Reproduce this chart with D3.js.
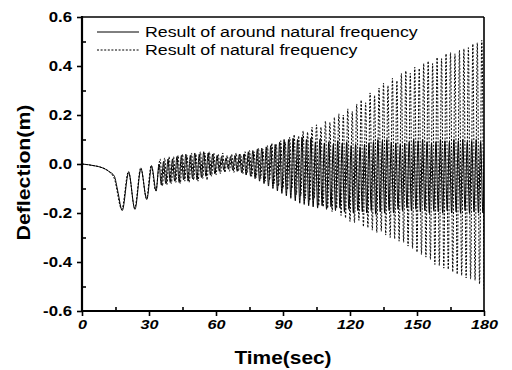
<!DOCTYPE html>
<html>
<head>
<meta charset="utf-8">
<script src="https://cdn.jsdelivr.net/npm/d3@7"></script>
<style>
  html, body { margin: 0; padding: 0; background: #fff; }
  svg { display: block; }
  text { font-family: "Liberation Sans", Arial, sans-serif; fill: #000; }
</style>
</head>
<body>
<svg id="chart" width="512" height="370"></svg>
<script>
// ---- data (turning points of each response) ----
const seriesNames = ["Result of around natural frequency", "Result of natural frequency"];

const timeSolid = [0,3,6,9,12,14.5,16,18,20.9,23.7,26.4,29,31.2,33.2,34.5,
  35.5,36.5,37.5,38.5,39.5,40.5,41.5,42.5,43.5,44.5,45.5,46.5,47.5,48.5,49.5,
  50.5,51.5,52.5,53.5,54.5,55.5,56.5,57.5,58.5,59.5,60.5,61.5,62.5,63.5,64.5,
  65.5,66.5,67.5,68.5,69.5,70.5,71.5,72.5,73.5,74.5,75.5,76.5,77.5,78.5,79.5,
  80.5,81.5,82.5,83.5,84.5,85.5,86.5,87.5,88.5,89.5,90.5,91.5,92.5,93.5,94.5,
  95.5,96.5,97.5,98.5,99.5,100.5,101.5,102.5,103.5,104.5,105.5,106.5,107.5,108.5,109.5,
  110.5,111.5,112.5,113.5,114.5,115.5,116.5,117.5,118.5,119.5,120.5,121.5,122.5,123.5,124.5,
  125.5,126.5,127.5,128.5,129.5,130.5,131.5,132.5,133.5,134.5,135.5,136.5,137.5,138.5,139.5,
  140.5,141.5,142.5,143.5,144.5,145.5,146.5,147.5,148.5,149.5,150.5,151.5,152.5,153.5,154.5,
  155.5,156.5,157.5,158.5,159.5,160.5,161.5,162.5,163.5,164.5,165.5,166.5,167.5,168.5,169.5,
  170.5,171.5,172.5,173.5,174.5,175.5,176.5,177.5,178.5,179.5,180];
const deflSolid = [0,-0.003,-0.008,-0.015,-0.03,-0.05,-0.11,-0.19,-0.035,-0.185,-0.02,-0.145,-0.01,-0.11,0.0,
  -0.085,0.01,-0.08,0.02,-0.075,0.02,-0.07,0.03,-0.075,0.035,-0.065,0.04,-0.07,0.035,-0.06,
  0.045,-0.065,0.04,-0.055,0.05,-0.05,0.045,-0.045,0.04,-0.04,0.035,-0.03,0.03,-0.025,0.025,
  -0.02,0.03,-0.025,0.035,-0.03,0.04,-0.035,0.04,-0.045,0.05,-0.05,0.055,-0.06,0.06,-0.07,
  0.065,-0.08,0.07,-0.09,0.075,-0.1,0.08,-0.11,0.09,-0.12,0.1,-0.13,0.1,-0.14,0.105,
  -0.15,0.1,-0.16,0.11,-0.165,0.1,-0.17,0.105,-0.175,0.09,-0.18,0.1,-0.17,0.085,-0.185,
  0.09,-0.175,0.08,-0.19,0.095,-0.18,0.085,-0.195,0.09,-0.185,0.075,-0.2,0.08,-0.19,0.07,
  -0.195,0.08,-0.2,0.085,-0.19,0.09,-0.205,0.1,-0.195,0.095,-0.2,0.1,-0.19,0.09,-0.2,
  0.085,-0.185,0.08,-0.19,0.085,-0.18,0.09,-0.19,0.1,-0.185,0.095,-0.195,0.1,-0.19,0.09,
  -0.2,0.085,-0.19,0.09,-0.195,0.1,-0.2,0.095,-0.19,0.09,-0.2,0.1,-0.195,0.095,-0.2,
  0.1,-0.19,0.09,-0.2,0.095,-0.195,0.1,-0.2,0.09,-0.2,0.05];

const timeDotted = [0,4,8,12,14.5,17.8,20.8,23.6,26.3,28.9,31,33,
  35,36,37,38,39,40,41,42,43,44,45,46,47,48,49,50,51,52,53,54,55,56,57,58,59,
  60,61,62,63,64,65,66,67,68,69,70,71,72,73,74,75,76,77,78,79,80,81,82,83,84,
  85,86,87,88,89,90,91,92,93,94,95,96,97,98,99,100,101,102,103,104,105,106,107,108,109,
  110,111,112,113,114,115,116,117,118,119,120,121,122,123,124,125,126,127,128,129,130,131,132,133,134,
  135,136,137,138,139,140,141,142,143,144,145,146,147,148,149,150,151,152,153,154,155,156,157,158,159,
  160,161,162,163,164,165,166,167,168,169,170,171,172,173,174,175,176,177,178,179,180];
const deflDotted = [0,-0.005,-0.012,-0.03,-0.06,-0.185,-0.03,-0.18,-0.015,-0.14,-0.005,-0.11,
  0.02,-0.09,0.025,-0.085,0.03,-0.08,0.03,-0.075,0.035,-0.08,0.04,-0.07,0.035,-0.075,0.045,-0.065,0.04,-0.07,0.05,-0.06,0.045,-0.065,0.05,-0.05,0.045,
  -0.045,0.04,-0.04,0.045,-0.035,0.035,-0.03,0.04,-0.035,0.045,-0.03,0.04,-0.04,0.05,-0.035,0.055,-0.05,0.05,-0.055,0.065,-0.06,0.06,-0.07,0.075,-0.065,
  0.085,-0.08,0.08,-0.09,0.095,-0.1,0.09,-0.105,0.11,-0.1,0.12,-0.125,0.115,-0.13,0.135,-0.14,0.13,-0.15,0.15,-0.14,0.16,-0.17,0.15,-0.175,0.175,
  -0.18,0.17,-0.195,0.19,-0.18,0.205,-0.21,0.2,-0.22,0.225,-0.235,0.215,-0.24,0.245,-0.23,0.26,-0.255,0.25,-0.26,0.29,-0.27,0.28,-0.28,0.31,-0.275,
  0.33,-0.29,0.32,-0.3,0.35,-0.305,0.34,-0.315,0.37,-0.32,0.38,-0.335,0.37,-0.345,0.395,-0.36,0.39,-0.37,0.41,-0.38,0.42,-0.39,0.41,-0.41,0.435,
  -0.415,0.43,-0.425,0.45,-0.43,0.455,-0.44,0.45,-0.45,0.465,-0.455,0.47,-0.465,0.475,-0.47,0.49,-0.475,0.495,-0.49,0.505,-0.51];

const xTicks = [0, 30, 60, 90, 120, 150, 180];
const xMinorTicks = [15, 45, 75, 105, 135, 165];
const yTicks = [-0.6, -0.4, -0.2, 0.0, 0.2, 0.4, 0.6];
const yMinorTicks = [-0.5, -0.3, -0.1, 0.1, 0.3, 0.5];

// ---- layout ----
const svg = d3.select("#chart");
const L = 82, R = 484, T = 17, B = 311;
const x = d3.scaleLinear().domain([0, 180]).range([L, R]);
const y = d3.scaleLinear().domain([-0.6, 0.6]).range([B, T]);

const solid = d3.zip(timeSolid, deflSolid);
const dotted = d3.zip(timeDotted, deflDotted);
const line = d3.line().x(d => x(d[0])).y(d => y(d[1])).curve(d3.curveMonotoneX);

svg.append("clipPath").attr("id", "clip")
  .append("rect").attr("x", L).attr("y", T).attr("width", R - L).attr("height", B - T);

const plot = svg.append("g").attr("clip-path", "url(#clip)");
plot.append("path").datum(dotted).attr("d", line)
  .attr("fill", "none").attr("stroke", "#000").attr("stroke-width", 1)
  .attr("stroke-dasharray", "2,1.6");
plot.append("path").datum(solid).attr("d", line)
  .attr("fill", "none").attr("stroke", "#000").attr("stroke-width", 1);

// ---- axes ----
const fmtY = d => d3.format(".1f")(d).replace("\u2212", "-");
const gx = svg.append("g").attr("transform", `translate(0,${B})`)
  .call(d3.axisBottom(x).tickValues(xTicks).tickSize(5).tickPadding(5).tickFormat(d3.format("d")));
const gxm = svg.append("g").attr("transform", `translate(0,${B})`)
  .call(d3.axisBottom(x).tickValues(xMinorTicks).tickSize(-4).tickFormat(""));
const gy = svg.append("g").attr("transform", `translate(${L},0)`)
  .call(d3.axisLeft(y).tickValues(yTicks).tickSize(5).tickPadding(5).tickFormat(fmtY));
const gym = svg.append("g").attr("transform", `translate(${L},0)`)
  .call(d3.axisLeft(y).tickValues(yMinorTicks).tickSize(-4).tickFormat(""));

[gx, gxm, gy, gym].forEach(g => {
  g.select(".domain").remove();
  g.selectAll(".tick line").attr("stroke", "#000").attr("stroke-width", 1.6);
});

const sx = 1.2;
gx.selectAll(".tick text")
  .attr("font-size", 13.5).attr("font-style", "italic").attr("font-weight", "bold")
  .attr("font-family", "Liberation Sans, Arial, sans-serif")
  .attr("transform", `scale(${sx},1)`).attr("y", 8).attr("dy", "0.71em");
gy.selectAll(".tick text")
  .attr("font-size", 14).attr("font-weight", "bold")
  .attr("font-family", "Liberation Sans, Arial, sans-serif")
  .attr("x", -10 / sx).attr("transform", `scale(${sx},1)`);

// frame
svg.append("line").attr("x1", L).attr("x2", L).attr("y1", T - 1).attr("y2", B + 1).attr("stroke", "#000").attr("stroke-width", 2.2);
svg.append("line").attr("x1", L - 1).attr("x2", R + 1).attr("y1", B).attr("y2", B).attr("stroke", "#000").attr("stroke-width", 2.2);
svg.append("line").attr("x1", L).attr("x2", R).attr("y1", T).attr("y2", T).attr("stroke", "#000").attr("stroke-width", 1.6);
svg.append("line").attr("x1", R).attr("x2", R).attr("y1", T).attr("y2", B).attr("stroke", "#000").attr("stroke-width", 1.6);

// titles
svg.append("text").attr("transform", `translate(${(L + R) / 2},364) scale(1.1,1)`)
  .attr("text-anchor", "middle").attr("font-size", 19).attr("font-weight", "bold").text("Time(sec)");
svg.append("text").attr("transform", `translate(29.5,172.5) rotate(-90) scale(1.12,1)`)
  .attr("text-anchor", "middle").attr("font-size", 19).attr("font-weight", "bold").text("Deflection(m)");

// legend
const legY = [32, 50];
const leg = svg.append("g");
seriesNames.forEach((name, i) => {
  leg.append("line").attr("x1", 97).attr("x2", 139).attr("y1", legY[i]).attr("y2", legY[i])
    .attr("stroke", "#000").attr("stroke-width", 1)
    .attr("stroke-dasharray", i === 1 ? "2,1.6" : null);
  leg.append("text").attr("transform", `translate(145,${legY[i] + 5}) scale(1.27,1)`)
    .attr("font-size", 14).text(name);
});
</script>
</body>
</html>
